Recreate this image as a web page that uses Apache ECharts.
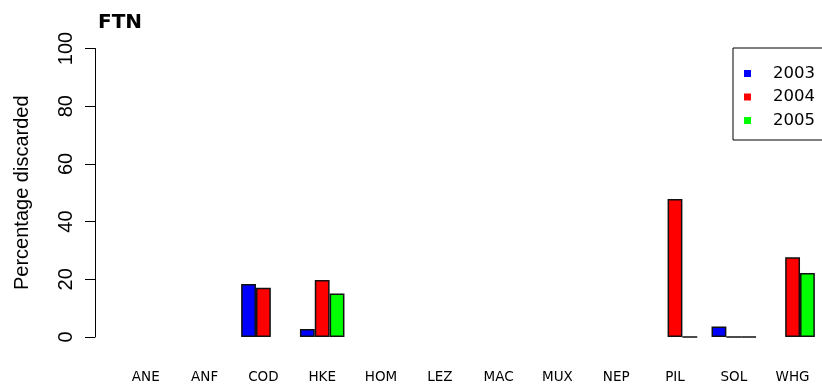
<!DOCTYPE html>
<html>
<head>
<meta charset="utf-8">
<script src="https://cdn.jsdelivr.net/npm/echarts@6/dist/echarts.min.js"></script>
<style>
  html, body { margin: 0; padding: 0; background: #fff; }
  #chart { width: 822px; height: 391px; }
</style>
</head>
<body>
<div id="chart"></div>
<script>
// species codes on the x axis
const categories = ['ANE', 'ANF', 'COD', 'HKE', 'HOM', 'LEZ', 'MAC', 'MUX', 'NEP', 'PIL', 'SOL', 'WHG'];
const years = ['2003', '2004', '2005'];
const colors = ['#0000ff', '#ff0000', '#00ff00'];
// percentage discarded per year (null = no data)
const pct2003 = [null, null, 18.4, 2.8, null, null, null, null, null, null, 3.6, null];
const pct2004 = [null, null, 17.1, 19.8, null, null, null, null, null, 47.8, 0, 27.6];
const pct2005 = [null, null, null, 15.1, null, null, null, null, null, 0, 0, 22.2];
const yTicks = [0, 20, 40, 60, 80, 100];

const band = 59.36;
const barW = band / 4;
const chart = echarts.init(document.getElementById('chart'));

const makeSeries = (name, data, i) => ({
  name: name,
  type: 'bar',
  data: data,
  barWidth: barW,
  barGap: '0%',
  itemStyle: { color: colors[i], borderColor: '#111', borderWidth: 1.5 }
});

chart.setOption({
  animation: false,
  title: {
    text: 'FTN',
    left: 93,
    top: 8,
    textStyle: { fontFamily: 'DejaVu Sans', fontWeight: 'bold', fontSize: 20, color: '#000' }
  },
  legend: {
    data: years,
    orient: 'vertical',
    left: 733,
    top: 48,
    padding: [17, 40, 11, 11],
    borderColor: '#000',
    borderWidth: 1,
    icon: 'rect',
    itemWidth: 7,
    itemHeight: 7,
    itemGap: 6.5,
    itemStyle: { borderWidth: 0 },
    textStyle: {
      fontFamily: 'DejaVu Sans',
      fontSize: 16.5,
      lineHeight: 16,
      color: '#000',
      padding: [0, 0, 0, 17]
    }
  },
  grid: { left: 116.4, top: 48.5, width: band * categories.length, height: 288.5 },
  xAxis: {
    type: 'category',
    data: categories,
    axisLine: { show: false },
    axisTick: { show: false },
    axisLabel: {
      margin: 33,
      fontFamily: 'DejaVu Sans',
      fontSize: 13.5,
      color: '#000'
    }
  },
  yAxis: {
    type: 'value',
    min: 0,
    max: 100,
    interval: 20,
    offset: 21.4,
    name: 'Percentage discarded',
    nameLocation: 'middle',
    nameGap: 63,
    nameRotate: 90,
    nameTextStyle: { fontFamily: 'Liberation Sans', fontSize: 20, color: '#000' },
    axisLine: { show: true, lineStyle: { color: '#000', width: 1 } },
    axisTick: { show: true, length: 10, lineStyle: { color: '#000', width: 1 } },
    splitLine: { show: false },
    axisLabel: {
      rotate: 90,
      margin: 19,
      fontFamily: 'Liberation Sans',
      fontSize: 20,
      color: '#000',
      formatter: v => (yTicks.indexOf(v) >= 0 ? String(v) : '')
    }
  },
  series: [
    makeSeries(years[0], pct2003, 0),
    makeSeries(years[1], pct2004, 1),
    makeSeries(years[2], pct2005, 2)
  ]
});
</script>
</body>
</html>
